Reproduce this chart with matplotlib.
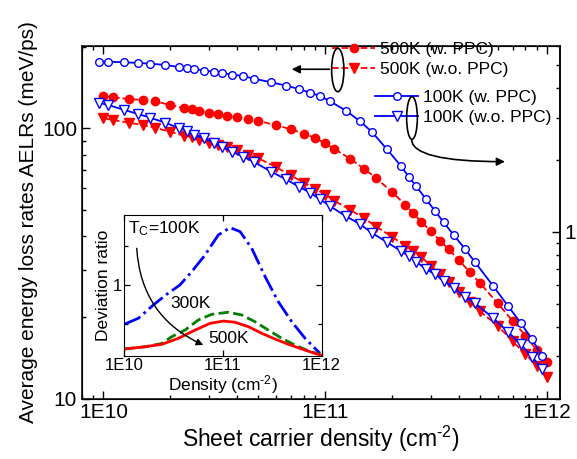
import numpy as np
import matplotlib
matplotlib.use("Agg")
import matplotlib.pyplot as plt
from matplotlib.patches import Ellipse
from matplotlib.ticker import LogLocator, NullFormatter, NullLocator

plt.rcParams['font.family'] = ['Liberation Sans', 'DejaVu Sans']
plt.rcParams['mathtext.fontset'] = 'custom'
plt.rcParams['mathtext.rm'] = 'Liberation Sans'
plt.rcParams['mathtext.it'] = 'Liberation Sans:italic'

# sheet carrier densities (cm^-2); the 100K points sit slightly to the left
n_500 = [1.0e10, 1.1e10, 1.3e10, 1.5e10, 1.7e10, 2.0e10, 2.3e10, 2.5e10, 2.7e10, 3.0e10,
         3.3e10, 3.6e10, 4.0e10, 4.5e10, 5.0e10, 6.0e10, 7.0e10, 8.0e10, 9.0e10, 1.0e11,
         1.1e11, 1.3e11, 1.5e11, 1.7e11, 2.0e11, 2.3e11, 2.5e11, 2.7e11, 3.0e11, 3.3e11,
         3.6e11, 4.0e11, 4.5e11, 5.0e11, 6.0e11, 7.0e11, 8.0e11, 9.0e11, 1.0e12]
n_100 = [0.95e10, 1.05e10, 1.24e10, 1.43e10, 1.62e10, 1.9e10, 2.19e10, 2.38e10, 2.57e10, 2.85e10,
         3.14e10, 3.42e10, 3.8e10, 4.28e10, 4.75e10, 5.7e10, 6.65e10, 7.6e10, 8.55e10, 9.5e10,
         1.05e11, 1.24e11, 1.43e11, 1.62e11, 1.9e11, 2.19e11, 2.38e11, 2.57e11, 2.85e11, 3.14e11,
         3.42e11, 3.8e11, 4.28e11, 4.75e11, 5.7e11, 6.65e11, 7.6e11, 8.55e11, 9.5e11]

# AELRs (meV/ps)
aelr_500_ppc = [131.9, 130.5, 128.5, 127.5, 126.1, 122.2, 118.8, 117.8, 116.4, 114.4,
                113.2, 111.5, 110.0, 108.1, 106.6, 102.8, 99.3, 95.7, 92.2, 88.0,
                84.0, 77.1, 70.8, 65.4, 58.2, 52.1, 48.5, 45.2, 41.7, 38.3,
                35.7, 32.6, 29.3, 26.7, 22.5, 19.4, 17.1, 15.1, 13.6]
aelr_500_nopc = [109.1, 107.5, 105.1, 103.0, 100.7, 97.3, 94.0, 92.8, 90.7, 88.6,
                 86.7, 85.2, 83.2, 80.0, 77.5, 72.0, 67.0, 63.0, 59.8, 56.9,
                 54.0, 49.9, 46.5, 43.3, 39.7, 36.8, 35.2, 33.5, 31.0, 28.8,
                 27.0, 24.9, 22.7, 21.0, 18.6, 16.3, 14.6, 13.2, 12.0]
aelr_100_ppc = [176.8, 176.8, 175.8, 174.8, 173.8, 171.8, 168.9, 167.5, 166.1, 163.7,
                162.3, 160.6, 158.2, 156.5, 152.9, 148.3, 144.1, 140.1, 135.7, 131.8,
                126.2, 116.4, 106.6, 97.3, 83.7, 72.8, 66.3, 61.2, 54.7, 49.3,
                44.9, 40.3, 35.7, 31.9, 26.2, 22.1, 19.1, 16.6, 14.4]
aelr_100_nopc = [124.6, 122.2, 117.1, 113.2, 109.6, 105.1, 100.2, 98.1, 94.6, 92.0,
                 88.6, 85.6, 82.0, 78.6, 75.3, 69.2, 64.8, 60.9, 57.8, 54.6,
                 51.6, 47.3, 44.3, 41.1, 37.9, 35.2, 33.7, 32.1, 30.1, 28.8,
                 27.3, 25.6, 23.8, 22.5, 19.9, 17.7, 15.9, 14.3, 12.9]

# inset: deviation ratio
n_dev_100 = [1e10, 1.39e10, 1.97e10, 2.69e10, 3.66e10, 4.82e10, 6.58e10, 8.95e10, 1.18e11,
             1.49e11, 1.95e11, 2.67e11, 3.63e11, 4.97e11, 6.79e11, 9.6e11]
dev_100 = [0.499, 0.555, 0.702, 0.848, 1.0, 1.266, 1.70, 2.42, 2.76, 2.57, 1.92, 1.16,
           0.744, 0.522, 0.389, 0.298]
n_dev_300 = [1e10, 1.62e10, 2.4e10, 3.02e10, 4.12e10, 5.62e10, 7.69e10, 1.13e11, 1.55e11,
             2.11e11, 2.88e11, 3.94e11, 5.37e11, 7.31e11, 9.6e11]
dev_300 = [0.322, 0.335, 0.355, 0.400, 0.450, 0.538, 0.595, 0.617, 0.588, 0.522, 0.450,
           0.389, 0.345, 0.312, 0.293]
n_dev_500 = [1e10, 1.62e10, 2.4e10, 3.53e10, 5.21e10, 7.4e10, 1.01e11, 1.32e11, 1.81e11,
             2.47e11, 3.37e11, 4.59e11, 6.28e11, 8.9e11, 1e12]
dev_500 = [0.322, 0.335, 0.350, 0.389, 0.450, 0.507, 0.528, 0.517, 0.478, 0.425, 0.384,
           0.350, 0.322, 0.295, 0.288]

x_ticks = [1e10, 1e11, 1e12]
x_ticklabels = ['1E10', '1E11', '1E12']

red = '#ff0000'
blue = '#0000ff'
green = '#008000'

fig = plt.figure(figsize=(5.77, 4.59), dpi=100)
ax = fig.add_axes([0.1421, 0.1318, 0.8284, 0.768])

ax.plot(n_500, aelr_500_ppc, '--', color=red, lw=1.3, marker='o', ms=6, mfc=red, mec=red,
        label='500K (w. PPC)', zorder=3)
ax.plot(n_500, aelr_500_nopc, '--', color=red, lw=1.3, marker='v', ms=6.5, mfc=red, mec=red,
        label='500K (w.o. PPC)', zorder=3)
ax.plot(n_100, aelr_100_ppc, '-', color=blue, lw=1.3, marker='o', ms=5.5, mfc='white', mec=blue,
        mew=1.0, label='100K (w. PPC)', zorder=4)
ax.plot(n_100, aelr_100_nopc, '-', color=blue, lw=1.3, marker='v', ms=6.5, mfc='white', mec=blue,
        mew=1.0, label='100K (w.o. PPC)', zorder=4)

ax.set_xscale('log')
ax.set_yscale('log')
ax.set_xlim(8.0e9, 1.145e12)
ax.set_ylim(10, 202)
ax.set_xticks(x_ticks)
ax.set_xticklabels(x_ticklabels)
ax.set_yticks([10, 100])
ax.set_yticklabels(['10', '100'])
ax.xaxis.set_minor_locator(LogLocator(base=10, subs=np.arange(2, 10)))
ax.yaxis.set_minor_locator(LogLocator(base=10, subs=np.arange(2, 10)))
ax.xaxis.set_minor_formatter(NullFormatter())
ax.yaxis.set_minor_formatter(NullFormatter())
ax.tick_params(which='both', direction='in', top=True, right=False, labelsize=15, width=1.0)
ax.tick_params(which='major', length=6)
ax.tick_params(which='minor', length=3)
for s in ax.spines.values():
    s.set_linewidth(1.1)
ax.set_xlabel('Sheet carrier density (cm$^{\\text{-2}}$)', fontsize=16.5, labelpad=1)
ax.set_ylabel('Average energy loss rates AELRs (meV/ps)', fontsize=15, labelpad=3)

# right axis (deviation ratio scale)
ax2 = ax.twinx()
ax2.set_yscale('log')
ax2.set_ylim(0.2, 6.0)
ax2.set_yticks([1])
ax2.set_yticklabels(['1'])
ax2.yaxis.set_minor_locator(LogLocator(base=10, subs=np.arange(2, 10)))
ax2.yaxis.set_minor_formatter(NullFormatter())
ax2.tick_params(which='both', direction='in', labelsize=15, width=1.0)
ax2.tick_params(which='major', length=6)
ax2.tick_params(which='minor', length=3)
ax2.spines['right'].set_linewidth(1.1)

# legends (two groups)
h, l = ax.get_legend_handles_labels()
leg_kw = dict(bbox_transform=fig.transFigure, frameon=False, fontsize=12.5, loc='upper left',
              handlelength=2.5, handletextpad=0.25, labelspacing=0.25,
              borderpad=0, borderaxespad=0)
leg1 = ax2.legend(h[:2], l[:2], bbox_to_anchor=(332 / 577, 1 - 42 / 459), **leg_kw)
ax2.add_artist(leg1)
leg2 = ax2.legend(h[2:], l[2:], bbox_to_anchor=(375 / 577, 1 - 90 / 459), **leg_kw)

# grouping ellipses and arrows
ax2.add_patch(Ellipse((0.5351, 0.9319), 0.0257, 0.1231, transform=ax.transAxes,
                      fill=False, ec='black', lw=1.2, zorder=6))
ax2.add_patch(Ellipse((0.6904, 0.7957), 0.0224, 0.1211, transform=ax.transAxes,
                      fill=False, ec='black', lw=1.2, zorder=6))
ax2.annotate('', xy=(0.4387, 0.934), xytext=(0.5174, 0.934), xycoords='axes fraction',
             arrowprops=dict(arrowstyle='-|>', color='black', lw=1.2, mutation_scale=12,
                             shrinkA=0, shrinkB=0))
ax2.annotate('', xy=(0.8849, 0.6718), xytext=(0.6897, 0.7353), xycoords='axes fraction',
             arrowprops=dict(arrowstyle='-|>', color='black', lw=1.2, mutation_scale=12,
                             shrinkA=0, shrinkB=0,
                             connectionstyle='angle3,angleA=-90,angleB=0'))

# inset
axi = fig.add_axes([124.3 / 577, 1 - 355.7 / 459, 197.4 / 577, 140.7 / 459])
axi.plot(n_dev_100, dev_100, '-.', color=blue, lw=2)
axi.plot(n_dev_300, dev_300, '--', color=green, lw=2)
axi.plot(n_dev_500, dev_500, '-', color=red, lw=2)
axi.set_xscale('log')
axi.set_yscale('log')
axi.set_xlim(1e10, 1e12)
axi.set_ylim(0.286, 3.45)
axi.set_xticks(x_ticks)
axi.set_xticklabels(x_ticklabels)
axi.xaxis.set_minor_locator(NullLocator())
axi.set_yticks([1])
axi.set_yticklabels(['1'])
axi.yaxis.set_minor_locator(LogLocator(base=10, subs=[2, 5]))
axi.yaxis.set_minor_formatter(NullFormatter())
axi.tick_params(which='both', direction='in', top=True, right=True, labelsize=12,
                width=0.9, pad=2)
axi.tick_params(which='major', length=4)
axi.tick_params(which='minor', length=3)
axi.set_xlabel('Density (cm$^{\\text{-2}}$)', fontsize=12.5, labelpad=0)
axi.set_ylabel('Deviation ratio', fontsize=12.5, labelpad=1)
axi.text(0.020, 0.903, 'T$_\\mathregular{C}$=100K', transform=axi.transAxes, fontsize=12.5,
         va='center', ha='left')
axi.text(0.2315, 0.372, '300K', transform=axi.transAxes, fontsize=12.5, va='center', ha='left')
axi.text(0.4255, 0.124, '500K', transform=axi.transAxes, fontsize=12.5, va='center', ha='left')
axi.annotate('', xy=(0.40, 0.076), xytext=(0.063, 0.763), xycoords='axes fraction',
             arrowprops=dict(arrowstyle='-|>', color='black', lw=1.0, mutation_scale=10,
                             shrinkA=0, shrinkB=0, connectionstyle='arc3,rad=0.3'))

fig.savefig('out.png', dpi=100)
